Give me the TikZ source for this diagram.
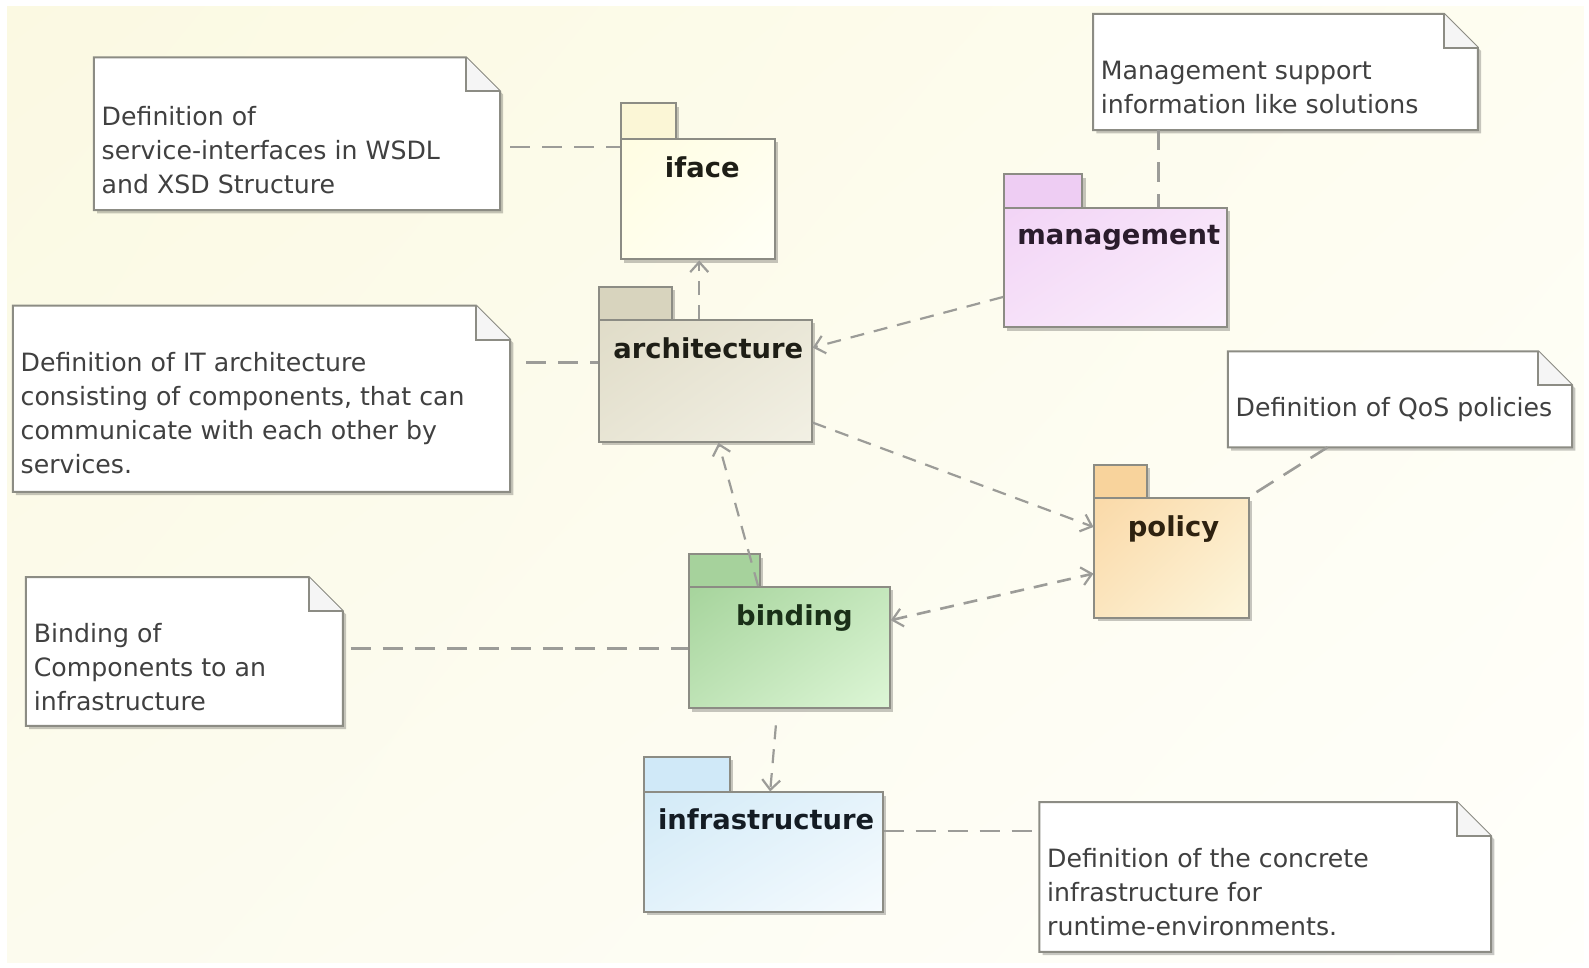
\documentclass[tikz,border=0pt]{standalone}
\usepackage{fontspec}
\setmainfont{DejaVu Sans}
\usetikzlibrary{arrows.meta,shadows,fit,shadings}

% page and line colours
\definecolor{bgtl}{HTML}{FBF9E2}
\definecolor{bgtr}{HTML}{FEFDF1}
\definecolor{bgbl}{HTML}{FCFBEE}
\definecolor{bgbr}{HTML}{FFFFFB}
\definecolor{frame}{HTML}{8C8C84}
\definecolor{conn}{HTML}{9C9C98}
\definecolor{notetext}{HTML}{404040}
% package fills: A = upper left, B = lower right, T = tab, L = name
\definecolor{ifaceA}{HTML}{FFFDE2}
\definecolor{ifaceB}{HTML}{FFFFF6}
\definecolor{ifaceT}{HTML}{FBF6D6}
\definecolor{ifaceL}{HTML}{1E1E16}
\definecolor{archA}{HTML}{E0DCC8}
\definecolor{archB}{HTML}{F2F0E4}
\definecolor{archT}{HTML}{D8D4BE}
\definecolor{archL}{HTML}{1E1E16}
\definecolor{mgmtA}{HTML}{F2D4F6}
\definecolor{mgmtB}{HTML}{FBF0FC}
\definecolor{mgmtT}{HTML}{EECDF3}
\definecolor{mgmtL}{HTML}{2A1C2C}
\definecolor{polA}{HTML}{FAD9A8}
\definecolor{polB}{HTML}{FDF6DC}
\definecolor{polT}{HTML}{F8D39C}
\definecolor{polL}{HTML}{2E2210}
\definecolor{bindA}{HTML}{A6D49C}
\definecolor{bindB}{HTML}{DDF6D6}
\definecolor{bindT}{HTML}{A6D29C}
\definecolor{bindL}{HTML}{1A3018}
\definecolor{infA}{HTML}{D2EAF7}
\definecolor{infB}{HTML}{F6FBFE}
\definecolor{infT}{HTML}{D0E9F8}
\definecolor{infL}{HTML}{141C24}

\newcommand\pxu{0.5067pt}
\newcommand\foldsize{17pt}
% note outline with a folded top-right corner, drawn round a named area
\newcommand\umlnote[1]{%
  \draw[noteframe] (#1.north west) -- ([xshift=-\foldsize]#1.north east)
    -- ([yshift=-\foldsize]#1.north east) -- (#1.south east) -- (#1.south west) -- cycle;
  \draw[notefold] ([xshift=-\foldsize]#1.north east) |- ([yshift=-\foldsize]#1.north east);}

\begin{document}
\begin{tikzpicture}[x=\pxu, y=-\pxu,
  shadowed/.style={drop shadow={shadow xshift=1.6pt, shadow yshift=-1.6pt, fill=black, opacity=0.22}},
  pkg/.style 2 args={draw=frame, line width=1pt, inner sep=0pt, shadowed,
    upper left=#1, lower right=#2, upper right=#1!45!#2, lower left=#1!55!#2},
  tab/.style={draw=frame, line width=1pt, shadowed, fill=#1},
  pkglabel/.style={font=\bfseries\fontsize{13.7}{16}\selectfont, text=#1, inner sep=0pt, anchor=base},
  notearea/.style={inner sep=0pt, draw=none},
  noteframe/.style={draw=frame, line width=1pt, fill=white, shadowed, line join=miter},
  notefold/.style={draw=frame, line width=1pt, fill=black!4},
  notetext/.style={font=\fontsize{12.6}{17}\selectfont, text=notetext, align=left, inner sep=0pt, anchor=west},
  anchorline/.style={draw=conn, line width=1.3pt, dash pattern=on 10pt off 6pt},
  dep/.style={draw=conn, line width=1.1pt, dash pattern=on 7pt off 5pt,
    -{Straight Barb[length=5pt,width=9pt,line width=1.1pt]}},
  depboth/.style={dep, line width=1.3pt, {Straight Barb[length=5pt,width=9pt,line width=1.1pt]}-{Straight Barb[length=5pt,width=9pt,line width=1.1pt]}}
]
% white page edge and shaded canvas
\fill[white] (0,0) rectangle (1568,955);
\shade[upper left=bgtl, upper right=bgtr, lower left=bgbl, lower right=bgbr] (7,6) rectangle (1563,950);
\useasboundingbox (0,0) rectangle (1568,955);

% package tabs
\draw[tab=ifaceT] (613,102) rectangle (667,137);
\draw[tab=archT] (591,283) rectangle (663,316);
\draw[tab=mgmtT] (991,172) rectangle (1068,205);
\draw[tab=polT] (1080,459) rectangle (1132,491);
\draw[tab=bindT] (680,547) rectangle (750,579);
\draw[tab=infT] (635,747) rectangle (720,782);

% package bodies
\node[pkg={ifaceA}{ifaceB}, fit={(613,137)(765,256)}] (iface) {};
\node[pkg={archA}{archB}, fit={(591,316)(801,436)}] (arch) {};
\node[pkg={mgmtA}{mgmtB}, fit={(991,205)(1211,323)}] (mgmt) {};
\node[pkg={polA}{polB}, fit={(1080,491)(1232,610)}] (policy) {};
\node[pkg={bindA}{bindB}, fit={(680,579)(878,699)}] (binding) {};
\node[pkg={infA}{infB}, fit={(635,782)(871,900)}] (infra) {};

% package names
\node[pkglabel=ifaceL] (ifaceN) at (693,175) {iface};
\node[pkglabel=archL] (archN) at (699,354) {architecture};
\node[pkglabel=mgmtL] (mgmtN) at (1104,241) {management};
\node[pkglabel=polL] (policyN) at (1158,529) {policy};
\node[pkglabel=bindL] (bindingN) at (784,617) {binding};
\node[pkglabel=infL] (infraN) at (756,819) {infrastructure};

% notes
\node[notearea, fit={(93,57)(493,207)}] (n1) {};
\node[notearea, fit={(13,302)(503,485)}] (n2) {};
\node[notearea, fit={(1079,14)(1458,128)}] (n3) {};
\node[notearea, fit={(1212,347)(1551,441)}] (n4) {};
\node[notearea, fit={(26,570)(338,716)}] (n5) {};
\node[notearea, fit={(1026,792)(1471,939)}] (n6) {};
\umlnote{n1}\umlnote{n2}\umlnote{n3}\umlnote{n4}\umlnote{n5}\umlnote{n6}

\node[notetext] (n1t) at (100,148) {Definition of\\service-interfaces in WSDL\\and XSD Structure};
\node[notetext] (n2t) at (20,408) {Definition of IT architecture\\consisting of components, that can\\communicate with each other by\\services.};
\node[notetext] (n3t) at (1086,86) {Management support\\information like solutions};
\node[notetext] (n4t) at (1219,404) {Definition of QoS policies};
\node[notetext] (n5t) at (33,658) {Binding of\\Components to an\\infrastructure};
\node[notetext] (n6t) at (1033,880) {Definition of the concrete\\infrastructure for\\runtime-environments.};

% note anchors
\draw[anchorline, shorten <=5pt] (n1.east |- 0,145) -- (iface.west |- 0,145);
\draw[anchorline, shorten <=8pt] (n2.east |- 0,358) -- (arch.west |- 0,358);
\draw[anchorline] (n3.south -| 1143,0) -- (mgmt.north -| 1143,0);
\draw[anchorline] (n4.south -| 1310,0) -- (policy.north east);
\draw[anchorline, shorten <=4pt] (n5.east |- 0,640) -- (binding.west |- 0,640);
\draw[anchorline] (infra.east |- 0,820) -- (n6.west |- 0,820);

% dependencies
\draw[dep] (arch.north -| 690,0) -- (iface.south -| 690,0);
\draw[dep] (mgmt.west |- 0,293) -- (arch.east |- 0,343);
\draw[dep] (arch.east |- 0,417) -- (policy.west |- 0,520);
\draw[dep] (binding.north -| 748,0) -- (arch.south -| 709,0);
\draw[depboth] (binding.east |- 0,612) -- (policy.west |- 0,566);
\draw[dep, shorten <=8pt] (binding.south -| 767,0) -- (infra.north -| 760,0);
\end{tikzpicture}
\end{document}
